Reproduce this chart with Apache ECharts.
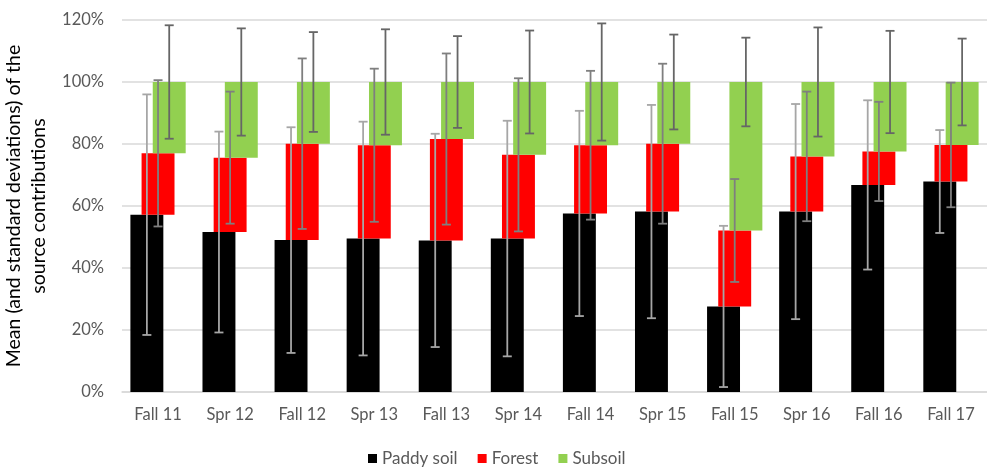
<!DOCTYPE html>
<html>
<head>
<meta charset="utf-8">
<script src="https://cdn.jsdelivr.net/npm/echarts@6/dist/echarts.min.js"></script>
<style>
  html, body { margin: 0; padding: 0; background: #fff; }
  #chart { width: 987px; height: 467px; }
</style>
</head>
<body>
<div id="chart"></div>
<script>
const seasons = ['Fall 11', 'Spr 12', 'Fall 12', 'Spr 13', 'Fall 13', 'Spr 14',
  'Fall 14', 'Spr 15', 'Fall 15', 'Spr 16', 'Fall 16', 'Fall 17']

// mean contributions (%)
const paddySoil = [57.2, 51.6, 49.0, 49.5, 48.9, 49.5, 57.6, 58.2, 27.6, 58.2, 66.8, 67.9]
const forest = [19.8, 24.0, 31.1, 30.1, 32.7, 27.0, 22.0, 21.9, 24.5, 17.8, 10.8, 11.8]
const subsoil = [23.0, 24.4, 19.9, 20.4, 18.4, 23.5, 20.4, 19.9, 47.9, 24.0, 22.4, 20.3]

// standard deviations (%)
const paddySd = [38.8, 32.4, 36.4, 37.7, 34.4, 38.0, 33.1, 34.4, 26.0, 34.7, 27.3, 16.6]
const forestSd = [23.6, 21.3, 27.5, 24.7, 27.6, 24.7, 24.0, 25.8, 16.6, 20.9, 16.0, 20.1]
const subsoilSd = [18.3, 17.3, 16.1, 17.0, 14.8, 16.6, 18.9, 15.3, 14.3, 17.6, 16.5, 14.0]

const yTicks = [0, 20, 40, 60, 80, 100, 120]

const FONT = 'Lato'
const barRatio = 0.457
const shift = 0.155

// stacked floating segments: [index, bottom, top]
const tops1 = paddySoil.map(v => v)
const tops2 = paddySoil.map((v, i) => v + forest[i])
const tops3 = tops2.map((v, i) => v + subsoil[i])
const seg1 = paddySoil.map((v, i) => [i, 0, tops1[i]])
const seg2 = forest.map((v, i) => [i, tops1[i], tops2[i]])
const seg3 = subsoil.map((v, i) => [i, tops2[i], tops3[i]])

function barSeries(name, color, data, off) {
  return {
    name: name,
    type: 'custom',
    itemStyle: {color: color},
    encode: {x: 0, y: [1, 2]},
    data: data,
    z: 2,
    renderItem: function (params, api) {
      const i = api.value(0)
      const lo = api.coord([i, api.value(1)])
      const hi = api.coord([i, api.value(2)])
      const cw = api.size([1, 0])[0]
      const w = cw * barRatio
      return {
        type: 'rect',
        shape: {x: lo[0] + off * cw - w / 2, y: hi[1], width: w, height: lo[1] - hi[1]},
        style: api.style()
      }
    }
  }
}

function errSeries(tops, sd, color, off) {
  return {
    type: 'custom',
    silent: true,
    z: 5,
    encode: {x: 0, y: [1, 2]},
    data: tops.map((v, i) => [i, v - sd[i], v + sd[i]]),
    renderItem: function (params, api) {
      const i = api.value(0)
      const lo = api.coord([i, api.value(1)])
      const hi = api.coord([i, api.value(2)])
      const cw = api.size([1, 0])[0]
      const x = lo[0] + off * cw
      const cap = 4.5
      const st = {stroke: color, lineWidth: 1.8}
      return {
        type: 'group',
        children: [
          {type: 'line', shape: {x1: x, y1: lo[1], x2: x, y2: hi[1]}, style: st},
          {type: 'line', shape: {x1: x - cap, y1: lo[1], x2: x + cap, y2: lo[1]}, style: st},
          {type: 'line', shape: {x1: x - cap, y1: hi[1], x2: x + cap, y2: hi[1]}, style: st}
        ]
      }
    }
  }
}

const chart = echarts.init(document.getElementById('chart'))
chart.setOption({
  animation: false,
  textStyle: {fontFamily: FONT},
  grid: {left: 122, right: 0, top: 20, bottom: 75, outerBoundsMode: 'none', containLabel: false},
  legend: {
    data: ['Paddy soil', 'Forest', 'Subsoil'],
    top: 445,
    left: 363,
    icon: 'rect',
    itemWidth: 9,
    itemHeight: 9,
    itemGap: 20,
    textStyle: {color: '#595959', fontSize: 17, fontFamily: FONT}
  },
  xAxis: {
    type: 'category',
    data: seasons,
    boundaryGap: true,
    axisTick: {show: false},
    axisLine: {show: true, lineStyle: {color: '#d9d9d9', width: 1.5}},
    axisLabel: {color: '#595959', fontSize: 16.5, margin: 14, fontFamily: FONT}
  },
  yAxis: {
    type: 'value',
    min: yTicks[0],
    max: yTicks[yTicks.length - 1],
    interval: 20,
    name: 'Mean (and standard deviations) of the\nsource contributions',
    nameLocation: 'middle',
    nameRotate: 90,
    nameGap: 51,
    nameTextStyle: {color: '#000', fontSize: 19.5, lineHeight: 25, fontFamily: FONT},
    axisLine: {show: false},
    axisTick: {show: false},
    splitLine: {lineStyle: {color: '#d9d9d9', width: 1.5}},
    axisLabel: {color: '#595959', fontSize: 16.5, margin: 18, formatter: '{value}%', fontFamily: FONT}
  },
  series: [
    barSeries('Paddy soil', '#000000', seg1, -shift),
    barSeries('Forest', '#ff0000', seg2, 0),
    barSeries('Subsoil', '#92d050', seg3, shift),
    errSeries(tops1, paddySd, '#a6a6a6', -shift),
    errSeries(tops2, forestSd, '#7f7f7f', 0),
    errSeries(tops3, subsoilSd, '#666666', shift)
  ]
})
</script>
</body>
</html>
